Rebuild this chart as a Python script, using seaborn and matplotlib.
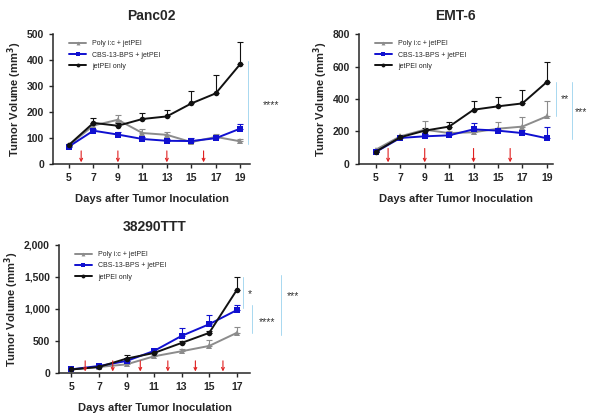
"""
Tumor volume over time for three tumor models, treated with
Poly I:C, CBS-13-BPS or jetPEI only.
"""
import numpy as np
import pandas as pd
import seaborn as sns
import matplotlib.pyplot as plt
from matplotlib.ticker import FuncFormatter

sns.set_style('ticks')
plt.rcParams['font.family'] = ['Liberation Sans', 'DejaVu Sans']

groups = ['Poly i:c + jetPEI', 'CBS-13-BPS + jetPEI', 'jetPEI only']
colors = ['#8c8c8c', '#1010d0', '#111111']
markers = ['^', 's', 'o']

# Panc02
panc_days = [5, 7, 9, 11, 13, 15, 17, 19]
panc_poly = [72, 148, 170, 119, 112, 84, 104, 87]
panc_poly_err = [4, 8, 18, 14, 12, 6, 10, 9]
panc_cbs = [67, 128, 113, 96, 89, 88, 99, 136]
panc_cbs_err = [3, 6, 8, 6, 6, 12, 6, 16]
panc_jet = [73, 158, 147, 173, 183, 233, 272, 385]
panc_jet_err = [4, 18, 10, 23, 26, 48, 72, 86]
panc_arrows = [6, 9, 13, 16]

# EMT-6
emt_days = [5, 7, 9, 11, 13, 15, 17, 19]
emt_poly = [88, 170, 211, 190, 195, 217, 230, 293]
emt_poly_err = [6, 10, 55, 12, 15, 40, 57, 93]
emt_cbs = [74, 160, 170, 176, 213, 205, 190, 158]
emt_cbs_err = [5, 8, 15, 15, 38, 15, 20, 72]
emt_jet = [76, 164, 205, 230, 334, 355, 373, 505]
emt_jet_err = [6, 10, 15, 28, 52, 57, 84, 121]
emt_arrows = [6, 9, 13, 16]

# 38290TTT
ttt_days = [5, 7, 9, 11, 13, 15, 17]
ttt_poly = [57, 94, 135, 261, 340, 423, 627]
ttt_poly_err = [8, 10, 60, 20, 40, 90, 85]
ttt_cbs = [57, 110, 188, 345, 580, 762, 982]
ttt_cbs_err = [8, 12, 30, 25, 125, 140, 80]
ttt_jet = [55, 94, 225, 313, 470, 627, 1295]
ttt_jet_err = [8, 10, 62, 20, 25, 30, 200]
ttt_arrows = [6, 8, 10, 12, 14, 16]


def draw_panel(ax, title, days, means, errs, arrows, ymax, ystep,
               xlim, arrow_top, sig_lines, sig_texts, comma=False):
    rows = []
    for g, m in zip(groups, means):
        for d, v in zip(days, m):
            rows.append({'Day': d, 'Volume': v, 'Group': g})
    df = pd.DataFrame(rows)
    for g, m, e, c in zip(groups, means, errs, colors):
        ax.errorbar(days, m, yerr=[np.zeros(len(e)), e], fmt='none',
                    ecolor=c, elinewidth=0.8, capsize=2.5, capthick=0.8,
                    zorder=2)
    sns.lineplot(data=df, x='Day', y='Volume', hue='Group', style='Group',
                 palette=colors, markers=markers, dashes=False, ax=ax,
                 linewidth=1.4, markersize=4, markeredgewidth=0, zorder=3)
    for a in arrows:
        ax.annotate('', xy=(a, ymax * 0.012), xytext=(a, arrow_top),
                    arrowprops=dict(arrowstyle='->', color='#e02020',
                                    lw=0.8, shrinkA=0, shrinkB=0,
                                    mutation_scale=5))
    for x, y0, y1 in sig_lines:
        ax.plot([x, x], [y0, y1], color='#a8d8f0', lw=0.7, clip_on=False)
    for x, y, s in sig_texts:
        ax.text(x, y, s, ha='center', va='center', fontsize=7.5,
                color='#333333')
    ax.set_xlim(*xlim)
    ax.set_ylim(0, ymax)
    ax.set_xticks(days)
    ax.set_yticks(np.arange(0, ymax + 1, ystep))
    if comma:
        ax.yaxis.set_major_formatter(FuncFormatter(lambda v, p: f'{int(v):,}'))
    ax.set_title(title, fontsize=10, fontweight='bold', pad=10)
    ax.set_xlabel('Days after Tumor Inoculation', fontsize=8,
                  fontweight='bold', labelpad=8)
    ax.set_ylabel('Tumor Volume (mm$^\\mathbf{3}$)', fontsize=8,
                  fontweight='bold', labelpad=2)
    ax.tick_params(labelsize=7.5, width=1, length=3)
    for lab in ax.get_xticklabels() + ax.get_yticklabels():
        lab.set_fontweight('bold')
    for sp in ['left', 'bottom']:
        ax.spines[sp].set_linewidth(1.1)
    sns.despine(ax=ax)
    ax.legend(frameon=False, fontsize=5, loc='upper left',
              bbox_to_anchor=(0.05, 1.0), handlelength=2.5, labelspacing=0.6,
              markerscale=0.7)


fig = plt.figure(figsize=(5.99, 4.17), dpi=100)
ax1 = fig.add_axes([0.0885, 0.607, 0.329, 0.311])
ax2 = fig.add_axes([0.599, 0.607, 0.324, 0.311])
ax3 = fig.add_axes([0.0985, 0.1055, 0.319, 0.307])

draw_panel(ax1, 'Panc02', panc_days, [panc_poly, panc_cbs, panc_jet],
           [panc_poly_err, panc_cbs_err, panc_jet_err], panc_arrows,
           500, 100, (3.7, 19.8), 50,
           [(19.63, 78, 395)], [(21.5, 225, '****')])
draw_panel(ax2, 'EMT-6', emt_days, [emt_poly, emt_cbs, emt_jet],
           [emt_poly_err, emt_cbs_err, emt_jet_err], emt_arrows,
           800, 200, (3.6, 19.5), 95,
           [(19.77, 293, 505), (21.1, 155, 505)],
           [(20.45, 398, '**'), (21.8, 318, '***')])
draw_panel(ax3, '38290TTT', ttt_days, [ttt_poly, ttt_cbs, ttt_jet],
           [ttt_poly_err, ttt_cbs_err, ttt_jet_err], ttt_arrows,
           2000, 500, (4.1, 17.97), 190,
           [(17.46, 1013, 1500), (18.1, 622, 1060), (20.2, 590, 1530)],
           [(17.97, 1240, '*'), (19.2, 800, '****'), (21.1, 1200, '***')],
           comma=True)

fig.savefig('out.png', dpi=100)
